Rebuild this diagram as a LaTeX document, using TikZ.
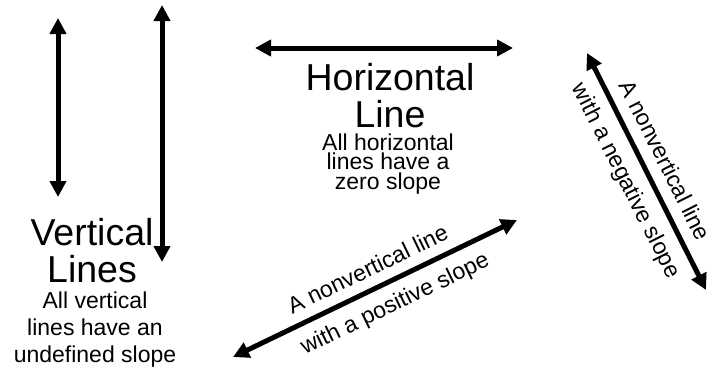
\documentclass[tikz,border=0pt]{standalone}
\usepackage{fontspec}
\setmainfont{Liberation Sans}
\usetikzlibrary{arrows.meta}

\begin{document}
\begin{tikzpicture}[
  x=1pt, y=1pt,
  >={Triangle[length=16pt,width=16pt]},
  line/.style={<->, line width=5pt},
  big/.style={font=\fontsize{37.5}{37}\selectfont, align=center, inner sep=0pt},
  note/.style={font=\fontsize{23}{27}\selectfont, align=center, inner sep=0pt},
  tag/.style={font=\fontsize{23}{27}\selectfont, sloped, inner sep=0pt},
]
\useasboundingbox (0,0) rectangle (714,368);

% ===== vertical lines =====
\coordinate (v1top) at (58,350);
\coordinate (v1bot) at (58,171);
\coordinate (v2top) at (162,363);
\coordinate (v2bot) at (162,106);
\draw[line] (v1top) -- (v1bot);
\draw[line] (v2top) -- (v2bot);
\node[big, anchor=base] (vertT) at (92,86) {Vertical\\Lines};
\node[note, anchor=base] (vertN) at (95,6) {All vertical\\lines have an\\undefined slope};

% ===== horizontal line =====
\coordinate (hleft) at (255,320);
\coordinate (hright) at (513,320);
\draw[line] (hleft) -- (hright);
\node[big, anchor=base] (horT) at (390,241) {Horizontal\\Line};
\node[note, anchor=base, font=\fontsize{23}{19.5}\selectfont] (horN) at (388,179) {All horizontal\\lines have a\\zero slope};

% ===== positive slope =====
\coordinate (pbot) at (233,11);
\coordinate (ptop) at (517,148);
\draw[line] (pbot) -- node[tag, above=10pt, pos=0.506] (posA) {A nonvertical line}
                     node[tag, below=10pt, pos=0.536] (posB) {with a positive slope} (ptop);

% ===== negative slope =====
\coordinate (ntop) at (587,315);
\coordinate (nbot) at (706,78);
\draw[line] (ntop) -- node[tag, above=11pt, pos=0.495] (negA) {A nonvertical line}
                     node[tag, below=10pt, pos=0.497] (negB) {with a negative slope} (nbot);
\end{tikzpicture}
\end{document}
